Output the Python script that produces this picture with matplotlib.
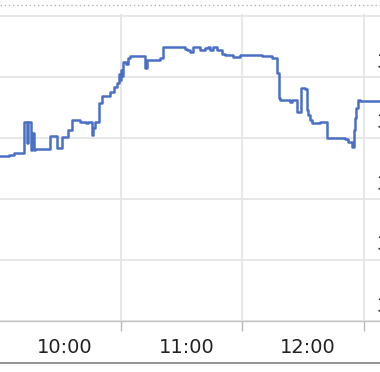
import matplotlib.pyplot as plt
from matplotlib.lines import Line2D
from matplotlib.ticker import FixedLocator, NullFormatter, FixedFormatter

# minutes after 09:00 and price (step series)
minutes = [27.9, 32.3, 34.8, 39.8, 41.2, 41.7, 43.2, 43.7, 44.7, 45.2,
           52.6, 56.1, 58.5, 61.5, 63.5, 67.4, 70.4, 71.4, 73.3, 73.8,
           74.8, 76.8, 78.3, 82.2, 84.2, 85.7, 86.7, 87.2, 87.7, 88.1,
           88.6, 90.1, 91.1, 92.1, 99.5, 100.5, 106.9, 108.4, 119.3, 120.2,
           121.7, 123.2, 126.7, 129.1, 130.6, 131.6, 133.1, 135.1, 137.5, 139.0,
           143.0, 146.4, 157.3, 162.2, 164.7, 165.7, 166.2, 171.1, 172.1, 174.6,
           176.5, 178.5, 179.5, 180.0, 181.0, 182.0, 185.9, 189.4, 198.3, 199.8,
           201.7, 202.7, 203.2, 203.7, 204.7, 205.7, 215.6]
price = [32.70, 32.72, 32.75, 33.26, 32.92, 33.26, 32.80, 33.08, 32.80, 32.82,
         33.03, 32.84, 33.02, 33.13, 33.30, 33.26, 33.25, 33.26, 33.05, 33.16,
         33.26, 33.57, 33.69, 33.75, 33.84, 33.90, 34.05, 33.95, 34.12, 34.02,
         34.25, 34.21, 34.31, 34.34, 34.15, 34.28, 34.31, 34.49, 34.46, 34.44,
         34.41, 34.49, 34.44, 34.48, 34.49, 34.44, 34.49, 34.44, 34.38, 34.36,
         34.33, 34.36, 34.34, 34.31, 34.07, 33.66, 33.62, 33.59, 33.62, 33.43,
         33.82, 33.80, 33.46, 33.38, 33.30, 33.25, 33.26, 33.00, 32.98, 32.93,
         32.85, 33.13, 33.33, 33.49, 33.62, 33.61, 33.61]

hour_pos = [60, 120, 180]
hour_labels = ['10:00', '11:00', '12:00']
grid_pos = [87.5, 147.5, 207.5]
y_levels = [30, 31, 32, 33, 34, 35]

W, H = 380, 372
fig = plt.figure(figsize=(W / 100, H / 100), dpi=100)
ax = fig.add_axes([0, 51 / H, 1, 307 / H])

ax.plot(minutes, price, drawstyle='steps-post', color='#4a70c6', lw=1.8)

ax.set_xlim(27.9, 215.5)
ax.set_ylim(30, 35 + 2 / 61)

ax.xaxis.set_major_locator(FixedLocator(grid_pos))
ax.xaxis.set_major_formatter(NullFormatter())
ax.xaxis.set_minor_locator(FixedLocator(hour_pos))
ax.xaxis.set_minor_formatter(FixedFormatter(hour_labels))
ax.tick_params(axis='x', which='major', length=7, width=1, color='#b8b8b8')
ax.tick_params(axis='x', which='minor', length=0, pad=12, labelsize=14,
               labelcolor='#222222')
ax.set_yticks(y_levels)
ax.tick_params(axis='y', left=False, labelleft=False)

ax.grid(True, which='major', axis='both', color='#e3e3e3', lw=1.2)
ax.set_axisbelow(True)
for s in ['top', 'left', 'right']:
    ax.spines[s].set_visible(False)
ax.spines['bottom'].set_color('#c4c4c4')
ax.spines['bottom'].set_linewidth(1)

# y labels on the right edge, cut off by the crop as in the original
for v in y_levels[:-1]:
    py = 321 - (v - 30) * 61 - 15
    fig.text(376 / W, 1 - py / H, str(v), fontsize=14, color='#222222',
             ha='left', va='center')

fig.add_artist(Line2D([0, 1], [1 - 5 / H] * 2, color='#b0b0b0', lw=1,
                      ls=(0, (1, 2))))
fig.add_artist(Line2D([0, 1], [1 - 363 / H] * 2, color='#8a8a8a', lw=1.3))

fig.savefig('out.png', dpi=100)
